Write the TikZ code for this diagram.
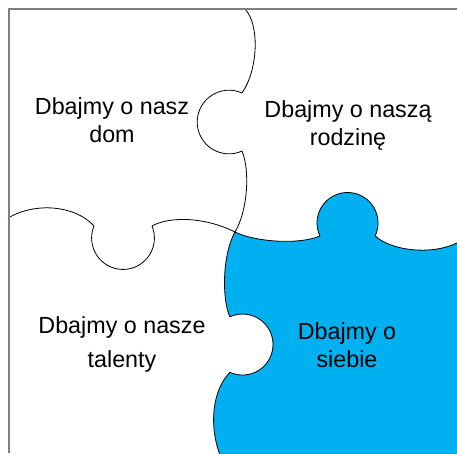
\documentclass[tikz,border=0pt]{standalone}
\usepackage{fontspec}
\setmainfont{Liberation Sans}
\definecolor{pieceblue}{HTML}{00B0F0}
\definecolor{framegray}{HTML}{7F7F7F}
\begin{document}
\begin{tikzpicture}[x=1pt,y=1pt,
  seam/.style={draw=black,line width=0.8pt},
  frameline/.style={draw=framegray,line width=1.6pt},
  lbl/.style={font=\fontsize{23.3}{28}\selectfont,align=center,inner sep=0pt,anchor=north,text=black},
  lblwide/.style={lbl,font=\fontsize{23.3}{34}\selectfont}]
\useasboundingbox (0,0) rectangle (457,-453);
\begin{scope}
\clip (0,0) rectangle (457,-453);
% blue piece
\filldraw[seam,fill=pieceblue]
  (235,-232) .. controls (255,-242) and (300,-245) .. (319.9,-235.9)
  arc[start angle=205,end angle=-25,radius=30.5]
  .. controls (390,-250) and (430,-256) .. (457,-243)
  -- (475,-236) -- (475,-475) -- (228,-475)
  -- (225,-465) .. controls (210,-440) and (208,-395) .. (229.9,-372.3)
  arc[start angle=-114.4,end angle=114.4,radius=30.5]
  .. controls (222,-300) and (222,-255) .. (235,-232) -- cycle;
% vertical seam between top pieces
\draw[seam] (245,-9) .. controls (260,-25) and (258,-70) .. (242,-93)
  arc[start angle=65.9,end angle=294.1,radius=31.8]
  .. controls (250,-170) and (248,-210) .. (235,-232);
% horizontal seam between left pieces
\draw[seam] (8,-218) .. controls (35,-202) and (75,-205) .. (94,-226)
  arc[start angle=157.5,end angle=382.5,radius=31.4]
  .. controls (170,-216) and (205,-217) .. (235,-232);
% frame
\draw[frameline] (9,-453) -- (9,-9) -- (460,-9);
\end{scope}
\node[lbl] (home) at (112,-97) {Dbajmy o nasz\\dom};
\node[lbl] (family) at (348,-100) {Dbajmy o naszą\\rodzinę};
\node[lblwide] (talents) at (122,-316) {Dbajmy o nasze\\talenty};
\node[lbl] (self) at (347,-322) {Dbajmy o\\siebie};
\end{tikzpicture}
\end{document}
